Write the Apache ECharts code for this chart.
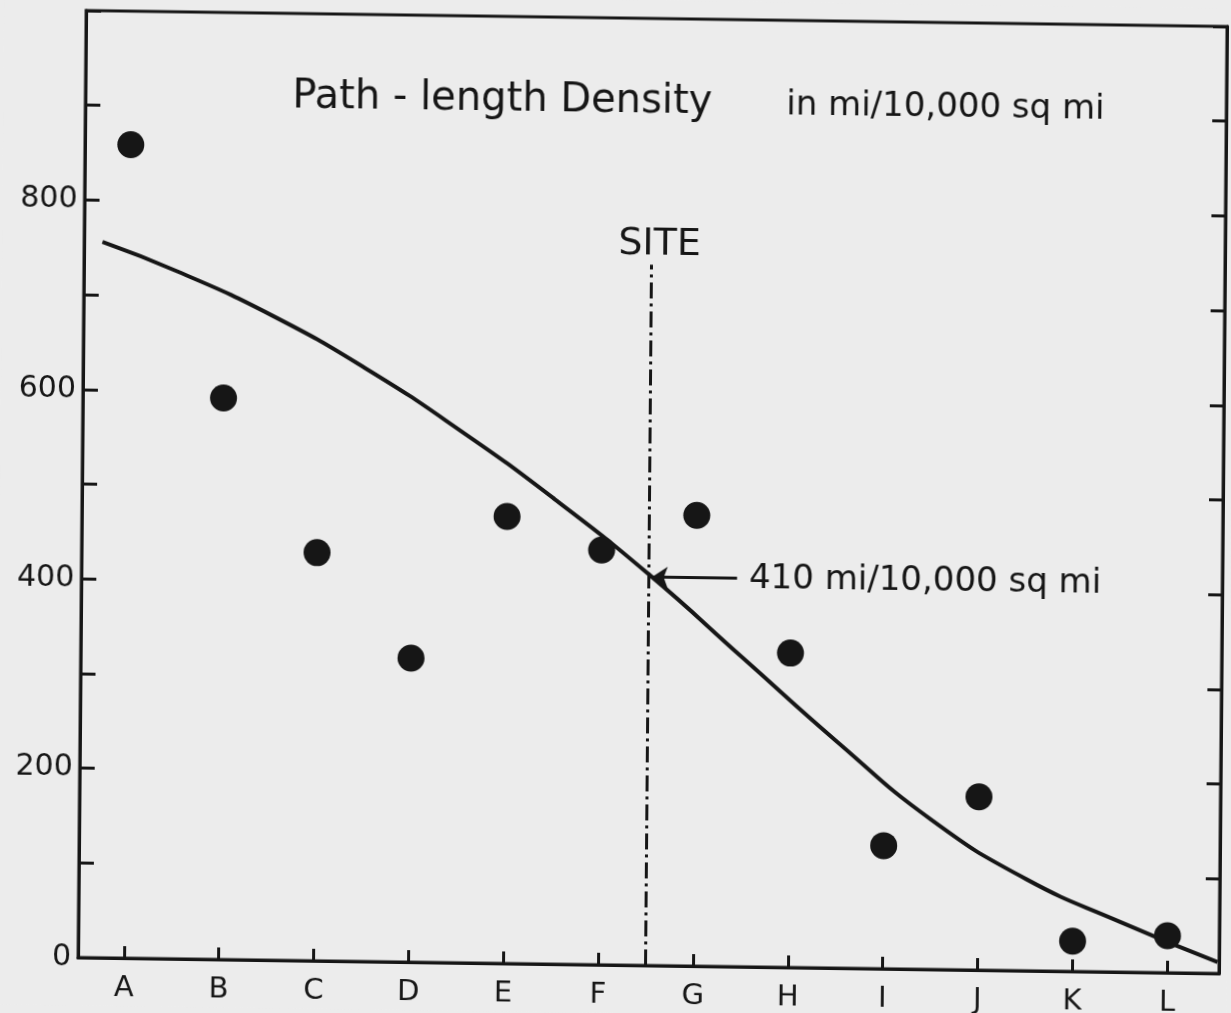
<!DOCTYPE html>
<html>
<head>
<meta charset="utf-8">
<title>Path-length Density</title>
<script src="https://cdn.jsdelivr.net/npm/echarts@6/dist/echarts.min.js"></script>
<style>
  html, body { margin: 0; padding: 0; background: #ececec; overflow: hidden; }
  /* the scan is slightly skewed, so the whole sheet is skewed the same way */
  #chart { width: 1231px; height: 1013px; transform: matrix(1, 0.014, -0.0085, 1, 0, 0); transform-origin: 50% 50%; }
</style>
</head>
<body>
<div id="chart"></div>
<script>
// stations A..L
const letters = ['A', 'B', 'C', 'D', 'E', 'F', 'G', 'H', 'I', 'J', 'K', 'L'];
const letterPos = [0, 1, 2, 3, 4, 5, 6, 7, 8, 9, 10, 11];
// measured path-length density (dots)
const dotValues = [859, 593, 431, 321, 472, 438, 476, 332, 130, 183, 32, 39];
// fitted curve
const curveX = [-0.29, 0.5, 1.5, 2.5, 3.5, 4.5, 5.5, 6.5, 7.5, 8.5, 9.5, 10.5, 11.53];
const curveY = [756, 726, 681, 626, 562, 491, 413, 326, 239, 158, 97, 53, 12];
// site marker
const siteX = 5.5;
const siteTop = 740;
const siteValue = 410;
const arrowTail = 6.43;
const arrowTip = 5.53;

const ink = '#161616';
const font = '"DejaVu Sans", sans-serif';

const chart = echarts.init(document.getElementById('chart'));

const option = {
  backgroundColor: '#ececec',
  animation: false,
  textStyle: { fontFamily: font, color: ink },
  title: [
    { text: 'Path - length Density', left: 284, top: 77, textStyle: { fontFamily: font, fontSize: 40, fontWeight: 'normal', color: ink } },
    { text: 'in mi/10,000 sq mi', left: 778, top: 81, textStyle: { fontFamily: font, fontSize: 34, fontWeight: 'normal', color: ink } }
  ],
  grid: {
    left: 82, right: 8, top: 18, bottom: 48,
    show: true, borderColor: ink, borderWidth: 3, backgroundColor: 'transparent'
  },
  xAxis: {
    type: 'value',
    min: -0.483,
    max: 11.546,
    splitLine: { show: false },
    axisLine: { onZero: false, lineStyle: { color: ink, width: 3 } },
    axisTick: { customValues: letterPos, inside: true, length: 12, lineStyle: { color: ink, width: 3 } },
    axisLabel: {
      customValues: letterPos,
      formatter: v => letters[Math.round(v)],
      fontFamily: font, fontSize: 29, color: ink, margin: 16
    }
  },
  yAxis: [{
    type: 'value',
    min: 0, max: 1000, interval: 100,
    splitLine: { show: false },
    axisLine: { show: true, onZero: false, lineStyle: { color: ink, width: 3 } },
    axisTick: { show: true, inside: true, length: 15, lineStyle: { color: ink, width: 3 } },
    axisLabel: {
      formatter: v => (v % 200 === 0 && v < 1000) ? String(v) : '',
      fontFamily: font, fontSize: 30, color: ink, margin: 7
    }
  }, {
    type: 'value',
    position: 'right',
    min: 0, max: 1000, interval: 100,
    splitLine: { show: false },
    axisLine: { show: true, onZero: false, lineStyle: { color: ink, width: 3 } },
    axisTick: { show: true, inside: true, length: 14, lineStyle: { color: ink, width: 3 } },
    axisLabel: { show: false }
  }],
  series: [{
    type: 'line',
    data: curveX.map((x, i) => [x, curveY[i]]),
    smooth: 0.5,
    showSymbol: false,
    lineStyle: { color: ink, width: 4 },
    z: 3,
    markLine: {
      silent: true,
      symbol: 'none',
      lineStyle: { color: ink, width: 3, type: [16, 5, 3, 5] },
      label: {
        show: true, position: 'end', distance: 1, formatter: 'SITE',
        fontFamily: font, fontSize: 38, color: ink, padding: [0, 0, 0, 16]
      },
      data: [[{ coord: [siteX, 0] }, { coord: [siteX, siteTop] }]]
    }
  }, {
    type: 'scatter',
    data: letterPos.map((x, i) => [x, dotValues[i]]),
    symbolSize: 27,
    itemStyle: { color: ink, opacity: 1 },
    z: 4,
    markLine: {
      silent: true,
      symbol: ['none', 'arrow'],
      symbolSize: 16,
      lineStyle: { color: ink, width: 3, type: 'solid' },
      label: {
        show: true, position: 'start', distance: 12,
        formatter: siteValue + ' mi/10,000 sq mi',
        fontFamily: font, fontSize: 34, color: ink
      },
      data: [[{ coord: [arrowTail, siteValue] }, { coord: [arrowTip, siteValue] }]]
    }
  }]
};

chart.setOption(option);
</script>
</body>
</html>
